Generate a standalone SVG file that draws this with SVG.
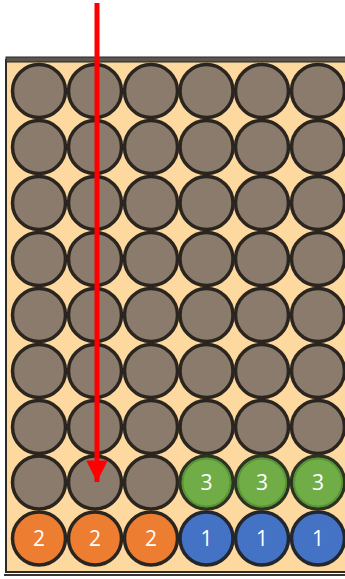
<svg xmlns="http://www.w3.org/2000/svg" width="345" height="579" viewBox="0 0 345 579">
<defs>
<style>
.hole{fill:#8b7b6d;stroke:#2b251f;stroke-width:3.5}
.o{fill:#ed7d31;stroke:#2b251f;stroke-width:3.5}
.b{fill:#4472c4;stroke:#22262e;stroke-width:3.5}
.g{fill:#70ad47;stroke:#2b3322;stroke-width:3.5}
.gr{fill:none;stroke:#5a9436;stroke-width:2}
.num{font-family:"Open Sans","Liberation Sans",sans-serif;font-size:21px;fill:#ffffff;text-anchor:middle}
</style>
<marker id="ah" viewBox="0 0 10 10" refX="10" refY="5" markerWidth="4.8" markerHeight="4.3" orient="auto" markerUnits="strokeWidth">
<path d="M0,0 L10,5 L0,10 z" fill="#ff0000"/>
</marker>
</defs>
<rect width="345" height="579" fill="#ffffff"/>
<g id="board">
<rect x="4" y="574" width="345" height="2" fill="#3a3530"/>
<rect x="6" y="60" width="345" height="512" fill="#fdd9a0" stroke="#2e2a26" stroke-width="2"/>
<rect x="6" y="57" width="345" height="5" fill="#5a574e" stroke="#2a2622" stroke-width="1"/>
</g>
<g id="holes">
<g id="r1"><circle class="hole" cx="39" cy="91" r="26.5"/><circle class="hole" cx="95" cy="91" r="26.5"/><circle class="hole" cx="151" cy="91" r="26.5"/><circle class="hole" cx="206.5" cy="91" r="26.5"/><circle class="hole" cx="262" cy="91" r="26.5"/><circle class="hole" cx="318" cy="91" r="26.5"/></g>
<g id="r2"><circle class="hole" cx="39" cy="147" r="26.5"/><circle class="hole" cx="95" cy="147" r="26.5"/><circle class="hole" cx="151" cy="147" r="26.5"/><circle class="hole" cx="206.5" cy="147" r="26.5"/><circle class="hole" cx="262" cy="147" r="26.5"/><circle class="hole" cx="318" cy="147" r="26.5"/></g>
<g id="r3"><circle class="hole" cx="39" cy="203" r="26.5"/><circle class="hole" cx="95" cy="203" r="26.5"/><circle class="hole" cx="151" cy="203" r="26.5"/><circle class="hole" cx="206.5" cy="203" r="26.5"/><circle class="hole" cx="262" cy="203" r="26.5"/><circle class="hole" cx="318" cy="203" r="26.5"/></g>
<g id="r4"><circle class="hole" cx="39" cy="259" r="26.5"/><circle class="hole" cx="95" cy="259" r="26.5"/><circle class="hole" cx="151" cy="259" r="26.5"/><circle class="hole" cx="206.5" cy="259" r="26.5"/><circle class="hole" cx="262" cy="259" r="26.5"/><circle class="hole" cx="318" cy="259" r="26.5"/></g>
<g id="r5"><circle class="hole" cx="39" cy="315" r="26.5"/><circle class="hole" cx="95" cy="315" r="26.5"/><circle class="hole" cx="151" cy="315" r="26.5"/><circle class="hole" cx="206.5" cy="315" r="26.5"/><circle class="hole" cx="262" cy="315" r="26.5"/><circle class="hole" cx="318" cy="315" r="26.5"/></g>
<g id="r6"><circle class="hole" cx="39" cy="371" r="26.5"/><circle class="hole" cx="95" cy="371" r="26.5"/><circle class="hole" cx="151" cy="371" r="26.5"/><circle class="hole" cx="206.5" cy="371" r="26.5"/><circle class="hole" cx="262" cy="371" r="26.5"/><circle class="hole" cx="318" cy="371" r="26.5"/></g>
<g id="r7"><circle class="hole" cx="39" cy="427" r="26.5"/><circle class="hole" cx="95" cy="427" r="26.5"/><circle class="hole" cx="151" cy="427" r="26.5"/><circle class="hole" cx="206.5" cy="427" r="26.5"/><circle class="hole" cx="262" cy="427" r="26.5"/><circle class="hole" cx="318" cy="427" r="26.5"/></g>
<g id="r8"><circle class="hole" cx="39" cy="482.5" r="26.5"/><circle class="hole" cx="95" cy="482.5" r="26.5"/><circle class="hole" cx="151" cy="482.5" r="26.5"/></g>
</g>
<g id="green3">
<g id="g1"><circle class="g" cx="206.5" cy="482.5" r="26.5"/><circle class="gr" cx="206.5" cy="482.5" r="24"/><text class="num" x="206.5" y="490">3</text></g>
<g id="g2"><circle class="g" cx="262" cy="482.5" r="26.5"/><circle class="gr" cx="262" cy="482.5" r="24"/><text class="num" x="262" y="490">3</text></g>
<g id="g3"><circle class="g" cx="318" cy="482.5" r="26.5"/><circle class="gr" cx="318" cy="482.5" r="24"/><text class="num" x="318" y="490">3</text></g>
</g>
<g id="orange2">
<g id="o1"><circle class="o" cx="39" cy="538.5" r="26.5"/><text class="num" x="39" y="546">2</text></g>
<g id="o2"><circle class="o" cx="95" cy="538.5" r="26.5"/><text class="num" x="95" y="546">2</text></g>
<g id="o3"><circle class="o" cx="151" cy="538.5" r="26.5"/><text class="num" x="151" y="546">2</text></g>
</g>
<g id="blue1">
<g id="b1"><circle class="b" cx="206.5" cy="538.5" r="26.5"/><text class="num" x="206.5" y="546">1</text></g>
<g id="b2"><circle class="b" cx="262" cy="538.5" r="26.5"/><text class="num" x="262" y="546">1</text></g>
<g id="b3"><circle class="b" cx="318" cy="538.5" r="26.5"/><text class="num" x="318" y="546">1</text></g>
</g>
<g id="connectors">
<line x1="97" y1="3" x2="97" y2="482" stroke="#ff0000" stroke-width="5" marker-end="url(#ah)"/>
</g>
</svg>
